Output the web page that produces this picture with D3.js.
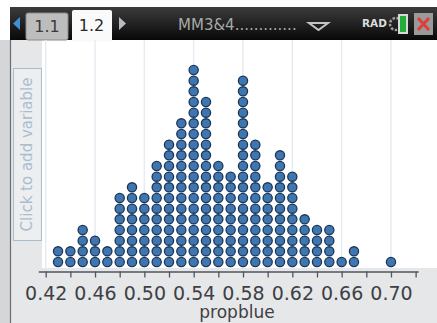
<!DOCTYPE html>
<html><head><meta charset="utf-8">
<script src="https://cdn.jsdelivr.net/npm/d3@7"></script>
<style>html,body{margin:0;padding:0;background:#fff;}svg{display:block;}</style>
</head><body>
<svg id="c" width="437" height="323"></svg>
<script>
const values = [0.43,0.44,0.45,0.46,0.47,0.48,0.49,0.50,0.51,0.52,0.53,0.54,0.55,0.56,0.57,0.58,0.59,0.60,0.61,0.62,0.63,0.64,0.65,0.66,0.67,0.68,0.69,0.70];
const counts = [2,2,4,3,2,7,8,7,10,12,14,19,16,10,9,18,12,8,11,9,5,4,4,1,2,0,0,1];
const tickValues = [0.42,0.44,0.46,0.48,0.50,0.52,0.54,0.56,0.58,0.60,0.62,0.64,0.66,0.68,0.70,0.72];
const tickLabels = ["0.42","0.46","0.50","0.54","0.58","0.62","0.66","0.70"];
const xLabel = "propblue";
const yPrompt = "Click to add variable";
const tabs = ["1.1","1.2"];
const docTitle = "MM3&4.............";

const svg = d3.select("#c");
const F = "'DejaVu Sans', Verdana, sans-serif";

// backgrounds
svg.append("rect").attr("x",0).attr("y",0).attr("width",437).attr("height",323).attr("fill","#fff");
svg.append("rect").attr("x",0).attr("y",40).attr("width",11).attr("height",283).attr("fill","#d4d6d8");
svg.append("rect").attr("x",11).attr("y",40).attr("width",426).attr("height",283).attr("fill","#e6e7e8");
svg.append("rect").attr("x",42).attr("y",40).attr("width",395).attr("height",228).attr("fill","#fff");
svg.append("line").attr("x1",10.5).attr("x2",10.5).attr("y1",40).attr("y2",323).attr("stroke","#6a6e72").attr("stroke-width",1.2);

// top bar
const defs = svg.append("defs");
const g1 = defs.append("linearGradient").attr("id","bar").attr("x1",0).attr("x2",0).attr("y1",0).attr("y2",1);
g1.append("stop").attr("offset","0%").attr("stop-color","#3c3c3c");
g1.append("stop").attr("offset","100%").attr("stop-color","#080808");
svg.append("rect").attr("x",10).attr("y",7).attr("width",427).attr("height",33).attr("fill","url(#bar)");

// arrows
svg.append("path").attr("d","M20,17 L20,30 L13,23.5 Z").attr("fill","#3f8ed8");
svg.append("path").attr("d","M119,17 L119,30 L126,23.5 Z").attr("fill","#b8bcc0");
// tabs
svg.append("rect").attr("x",26).attr("y",13).attr("width",42).attr("height",27).attr("rx",2).attr("fill","#bdbdbd").attr("stroke","#8a8a8a");
svg.append("rect").attr("x",72).attr("y",10).attr("width",40).attr("height",32).attr("rx",2).attr("fill","#fafafa");
svg.append("text").attr("x",47).attr("y",32).attr("text-anchor","middle").attr("font-family",F).attr("font-size",16).attr("fill","#3a3a3a").text(tabs[0]);
svg.append("text").attr("x",91.5).attr("y",31).attr("text-anchor","middle").attr("font-family",F).attr("font-size",16).attr("fill","#2a2a2a").text(tabs[1]);
// title
svg.append("text").attr("x",178).attr("y",30).attr("font-family",F).attr("font-size",15).attr("fill","#a9a9a9").text(docTitle);
svg.append("path").attr("d","M309,23 L328,23 L318.5,30 Z").attr("fill","none").attr("stroke","#c4c4c4").attr("stroke-width",2);
svg.append("text").attr("x",362).attr("y",27).attr("font-family",F).attr("font-weight","bold").attr("font-size",10.5).attr("fill","#dcdcdc").text("RAD");
// battery / gear
svg.append("circle").attr("cx",396).attr("cy",24).attr("r",6).attr("fill","none").attr("stroke","#a0a0a0").attr("stroke-width",2.5).attr("stroke-dasharray","2.5 1.5");
svg.append("rect").attr("x",398).attr("y",14).attr("width",10).attr("height",20).attr("fill","#d8d8d8");
svg.append("rect").attr("x",400).attr("y",16).attr("width",6).attr("height",16).attr("fill","#1fae3a");
// close
svg.append("rect").attr("x",414).attr("y",13).attr("width",19).attr("height",22).attr("fill","#9a9a9a");
svg.append("path").attr("d","M418,18 L429,30 M429,18 L418,30").attr("stroke","#e03c3c").attr("stroke-width",3);

// y prompt box
svg.append("rect").attr("x",13.5).attr("y",68.5).attr("width",28).attr("height",172).attr("fill","#eceef0").attr("stroke","#a9bccd").attr("stroke-width",1);
svg.append("text").attr("transform","translate(32,154.5) rotate(-90)").attr("text-anchor","middle").attr("font-family",F).attr("font-size",15).attr("fill","#aabdcf").text(yPrompt);

// scales
const x = d3.scaleLinear().domain([0.414,0.722]).range([38.3,418.1]);
const y = d3.scaleLinear().domain([0,18]).range([262,70]);

// gridlines at labeled ticks
svg.append("g").selectAll("line").data(tickLabels.map(Number)).join("line")
  .attr("x1",d=>x(d)).attr("x2",d=>x(d)).attr("y1",40).attr("y2",268)
  .attr("stroke","#e6ecf2").attr("stroke-width",1.5);

// axis
const axis = d3.axisBottom(x).tickValues(tickValues).tickSizeInner(6).tickSizeOuter(0).tickPadding(9)
  .tickFormat(d => { const s = d3.format(".2f")(d); return tickLabels.includes(s) ? s : ""; });
const ax = svg.append("g").attr("transform","translate(0,271.5)").call(axis);
ax.select(".domain").attr("stroke","#4e5660").attr("stroke-width",1.3);
ax.selectAll(".tick line").attr("stroke","#4e5660").attr("stroke-width",1.3);
ax.selectAll(".tick text").attr("font-family",F).attr("font-size",19).attr("fill","#3d4044").attr("dy","0.72em");

svg.append("text").attr("x",237).attr("y",318).attr("text-anchor","middle").attr("font-family",F).attr("font-size",17).attr("fill","#3d4044").text(xLabel);

// dots
const pts = [];
values.forEach((v,i)=>{ for(let k=0;k<counts[i];k++) pts.push({v,k}); });
svg.append("g").selectAll("circle").data(pts).join("circle")
  .attr("cx",d=>x(d.v)).attr("cy",d=>y(d.k)).attr("r",4.6)
  .attr("fill","#3f76b1").attr("stroke","#1c3756").attr("stroke-width",1.3);
</script>
</body></html>
